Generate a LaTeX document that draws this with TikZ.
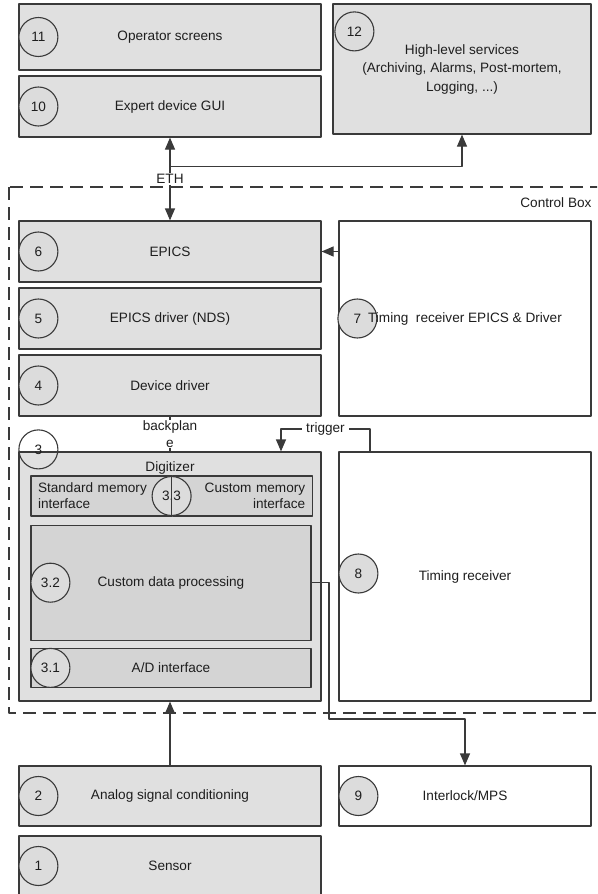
\documentclass[tikz,border=0pt]{standalone}
\usepackage{fontspec}
\setmainfont{Liberation Sans}
\usetikzlibrary{arrows.meta}
\definecolor{boxgray}{RGB}{224,224,224}
\definecolor{subgray}{RGB}{212,212,212}
\definecolor{numgray}{RGB}{220,220,220}
\definecolor{edgegray}{RGB}{58,58,58}
\definecolor{txtgray}{RGB}{30,30,30}
\begin{document}
\begin{tikzpicture}[x=1pt, y=-1pt, font=\fontsize{13.6}{17}\selectfont, line join=round, >={Triangle[length=12pt,width=10pt]},
	blk/.style={draw=edgegray, line width=1.2pt, fill=boxgray, minimum width=302pt, minimum height=61pt, inner sep=0pt, text=txtgray},
	wblk/.style={blk, fill=white, minimum width=252pt},
	sub/.style={blk, fill=subgray, minimum width=280pt},
	num/.style={circle, draw=edgegray, line width=1.1pt, fill=numgray, minimum size=39pt, inner sep=0pt, text=txtgray},
	conn/.style={draw=edgegray, line width=1.2pt},
	tag/.style={fill=white, inner xsep=4pt, inner ysep=1pt, text=txtgray}]
	\clip (0,0) rectangle (597,894);
	% control box
	\draw[conn, dash pattern=on 13pt off 7pt] (9,187) rectangle (620,713);
	\node[anchor=east, text=txtgray] (cbox) at (595,203) {Control Box};

	% upper level
	\node[blk, minimum height=66pt] (b11) at (170,37) {Operator screens};
	\node[blk] (b10) at (170,106.5) {Expert device GUI};
	\node[blk, minimum width=258pt, minimum height=130pt, align=center, font=\fontsize{13.6}{18.5}\selectfont] (b12) at (462,69) {High-level services\\(Archiving, Alarms, Post-mortem,\\Logging, ...)};

	% inside the control box
	\node[blk] (b6) at (170,251.5) {EPICS};
	\node[blk] (b5) at (170,318.5) {EPICS driver (NDS)};
	\node[blk] (b4) at (170,385.5) {Device driver};
	\node[wblk, minimum height=195pt] (b7) at (465,318.5) {};
	\node[blk, minimum height=249pt] (b3) at (170,576.5) {};
	\node[wblk, minimum height=249pt] (b8) at (465,576.5) {Timing receiver};
	\node[text=txtgray] (digi) at ([yshift=-17pt]b3.north) {Digitizer};
	\node[sub, minimum width=140pt, minimum height=40pt, text width=126pt, inner xsep=7pt, align=left, anchor=north west, font=\fontsize{13.6}{16}\selectfont] (memL) at ([xshift=12pt,yshift=-24pt]b3.north west) {Standard memory\\interface};
	\node[sub, minimum width=140pt, minimum height=40pt, text width=126pt, inner xsep=7pt, align=right, anchor=west, font=\fontsize{13.6}{16}\selectfont] (memR) at (memL.east) {Custom memory\\interface};
	\node[sub, minimum height=115pt, anchor=north west] (b32) at ([yshift=-8pt]memL.south west) {Custom data processing};
	\node[sub, minimum height=39pt, anchor=north west] (b31) at ([yshift=-7pt]b32.south west) {A/D interface};

	% field level
	\node[blk, minimum height=60pt] (b2) at (170,796) {Analog signal conditioning};
	\node[blk, minimum height=60pt] (b1) at (170,866) {Sensor};
	\node[wblk, minimum height=60pt] (b9) at (465,796) {Interlock/MPS};

	% connectors
	\draw[conn, <->] (b10.south) -- node[tag]{ETH} (b6.north);
	\coordinate (ethjoin) at ([yshift=-29pt]b10.south);
	\draw[conn, ->] (ethjoin) -| (b12.south);
	\draw[conn, ->] (b7.west |- b6.east) -- (b6.east);
	\draw[conn] (b4.south) -- node[tag, align=center, inner xsep=1pt]{backplan\\e} (b3.north);
	\coordinate (trigturn) at (281,429);
	\draw[conn, ->] ([xshift=-95pt]b8.north) |- node[tag, pos=0.75]{trigger} (trigturn) -- (trigturn |- b3.north);
	\coordinate (mpsturn) at (329,719);
	\draw[conn, ->] (b32.east) -| (mpsturn) -| (b9.north);
	\draw[conn, ->] (b2.north) -- (b3.south);

	% numbers
	\node[num] (n11) at ([xshift=20pt]b11.west) {11};
	\node[num] (n10) at ([xshift=20pt]b10.west) {10};
	\node[num] (n12) at ([xshift=22pt,yshift=-28pt]b12.north west) {12};
	\node[num] (n6) at ([xshift=20pt]b6.west) {6};
	\node[num] (n5) at ([xshift=20pt]b5.west) {5};
	\node[num] (n4) at ([xshift=20pt]b4.west) {4};
	\node[num] (n7) at ([xshift=19pt]b7.west) {7};
	\node[text=txtgray] (t7) at (b7.center) {Timing~ receiver EPICS \& Driver};
	\node[num, fill=none] (n3) at ([xshift=20pt,yshift=2pt]b3.north west) {3};
	\node[num] (n33) at (memL.east) {3.3};
	\draw[conn] (memL.north east) -- (memL.south east);
	\node[num] (n32) at ([xshift=20pt]b32.west) {3.2};
	\node[num] (n31) at ([xshift=20pt]b31.west) {3.1};
	\node[num] (n8) at ([xshift=20pt,yshift=3pt]b8.west) {8};
	\node[num] (n9) at ([xshift=20pt]b9.west) {9};
	\node[num] (n2) at ([xshift=20pt]b2.west) {2};
	\node[num] (n1) at ([xshift=20pt]b1.west) {1};
\end{tikzpicture}
\end{document}
